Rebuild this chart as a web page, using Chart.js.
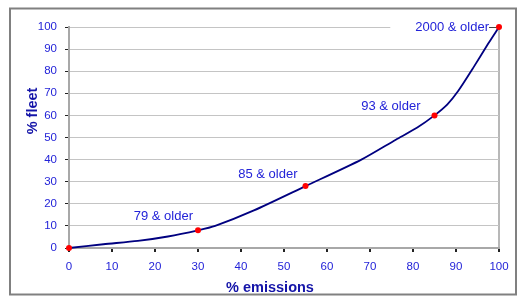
<!DOCTYPE html>
<html>
<head>
<meta charset="utf-8">
<script src="https://cdn.jsdelivr.net/npm/chart.js@4"></script>
<style>
  html, body { margin: 0; padding: 0; background: #fff; }
  #wrap { width: 519px; height: 297px; }
</style>
</head>
<body>
<div id="wrap"><canvas id="fleetChart" width="519" height="297"></canvas></div>
<script>
// curve
const emissions = [0, 8, 16, 23, 30, 34, 43, 55, 68, 76, 81, 85, 88, 90.5, 94, 97.5, 100];
const fleet = [0, 1.7, 3.2, 5.2, 8, 10, 17, 28, 40, 49, 54.5, 60, 65, 71, 81.5, 92.5, 100];

// marked model-year points
const markEmissions = [0, 30, 55, 85, 100];
const markFleet = [0, 8, 28, 60, 100];
const markLabels = ["", "79 & older", "85 & older", "93 & older", "2000 & older"];

const xTitle = "% emissions";
const yTitle = "% fleet";

const tickBlue = "#2323d8";
const titleBlue = "#1414a8";
const labelFont = "13px 'Liberation Sans', Arial, sans-serif";

// label offsets (dx, dy) from each marker
const offsets = [[0, 0], [5, 14], [8, 12], [14, 9], [10, 0]];

const annotatePlugin = {
  id: "annotate",
  beforeDraw(chart) {
    const c = chart.ctx;
    c.save();
    c.fillStyle = "#fff";
    c.fillRect(0, 0, chart.width, chart.height);
    c.restore();
  },
  beforeDatasetsDraw(chart) {
    // white box behind the top label hides the end of the 100 gridline
    const c = chart.ctx;
    const meta = chart.getDatasetMeta(1);
    const i = markLabels.length - 1;
    const pt = meta.data[i];
    c.save();
    c.font = labelFont;
    const w = c.measureText(markLabels[i]).width;
    const tx = pt.x - offsets[i][0];
    const ty = pt.y - offsets[i][1];
    c.fillStyle = "#fff";
    c.fillRect(tx - w - 25, ty - 10, w + 33, 20);
    c.strokeStyle = "#444";
    c.lineWidth = 1;
    c.beginPath();
    c.moveTo(tx, ty + 0.5);
    c.lineTo(pt.x - 2, ty + 0.5);
    c.stroke();
    c.restore();
  },
  afterDraw(chart) {
    const c = chart.ctx;
    const meta = chart.getDatasetMeta(1);
    c.save();
    c.font = labelFont;
    c.textAlign = "right";
    c.textBaseline = "middle";
    c.fillStyle = tickBlue;
    meta.data.forEach((pt, i) => {
      const text = markLabels[i];
      if (!text) return;
      c.fillText(text, pt.x - offsets[i][0], pt.y - offsets[i][1]);
    });

    // axis titles
    c.fillStyle = titleBlue;
    c.font = "bold 14.5px 'Liberation Sans', Arial, sans-serif";
    c.textAlign = "center";
    c.fillText(xTitle, 270, 288);
    c.translate(33, 111);
    c.rotate(-Math.PI / 2);
    c.fillText(yTitle, 0, 0);
    c.restore();

    // outer frame
    c.save();
    c.strokeStyle = "#808080";
    c.lineWidth = 2;
    c.strokeRect(10, 8.5, 506, 286);
    c.restore();
  }
};

const ctx = document.getElementById("fleetChart").getContext("2d");
new Chart(ctx, {
  type: "scatter",
  data: {
    datasets: [
      {
        data: emissions.map((e, i) => ({ x: e, y: fleet[i] })),
        showLine: true,
        borderColor: "#000080",
        borderWidth: 1.8,
        tension: 0.25,
        pointRadius: 0,
        fill: false,
        clip: false,
        order: 1,
      },
      {
        data: markEmissions.map((e, i) => ({ x: e, y: markFleet[i] })),
        showLine: false,
        pointRadius: 3,
        pointBackgroundColor: "#ff0000",
        pointBorderColor: "#ff0000",
        pointBorderWidth: 0,
        clip: false,
        order: 0,
      },
    ],
  },
  options: {
    responsive: false,
    animation: false,
    layout: { padding: { top: 27, right: 20, left: 0, bottom: 0 } },
    plugins: { legend: { display: false }, tooltip: { enabled: false } },
    scales: {
      x: {
        type: "linear",
        min: 0,
        max: 100,
        afterFit(scale) { scale.height = 49; },
        border: { color: "#a8a8a8", width: 2 },
        grid: {
          color: (c) => (c.tick && c.tick.value === 100 ? "#b8b8b8" : "transparent"),
          lineWidth: 2,
          tickColor: "#222",
          tickLength: 4,
        },
        ticks: {
          stepSize: 10,
          color: tickBlue,
          padding: 8,
          font: { family: "'Liberation Sans', Arial, sans-serif", size: 11.5 },
        },
      },
      y: {
        type: "linear",
        min: 0,
        max: 100,
        afterFit(scale) { scale.width = 69; },
        border: { color: "#a8a8a8", width: 2 },
        grid: {
          color: "#c4c4c4",
          lineWidth: 1,
          tickColor: "#222",
          tickLength: 4,
        },
        ticks: {
          stepSize: 10,
          color: tickBlue,
          padding: 8,
          font: { family: "'Liberation Sans', Arial, sans-serif", size: 11.5 },
        },
      },
    },
  },
  plugins: [annotatePlugin],
});
</script>
</body>
</html>
